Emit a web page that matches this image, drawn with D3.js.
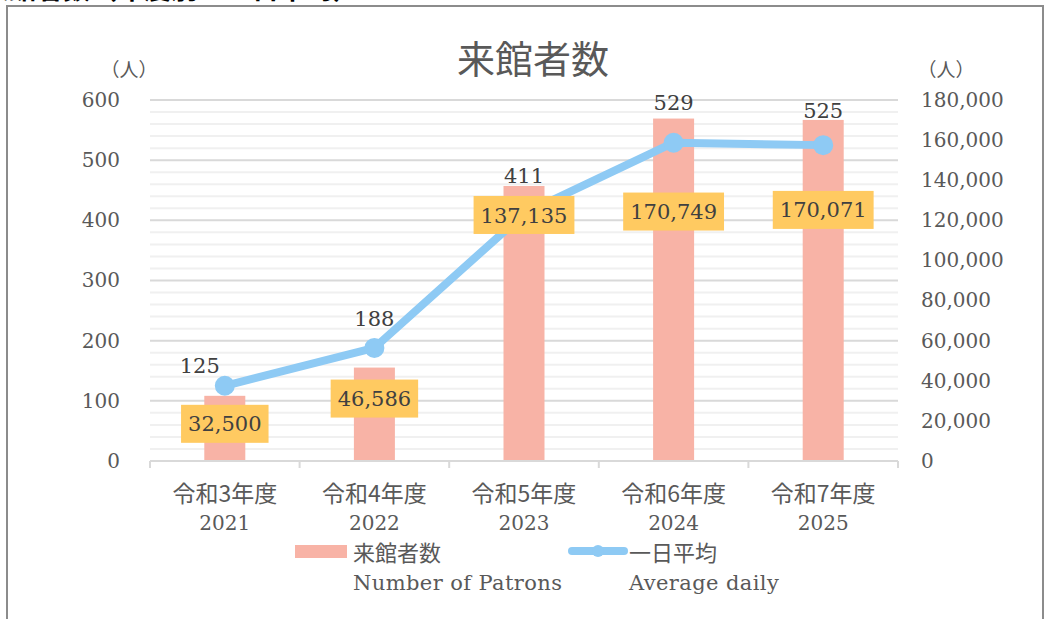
<!DOCTYPE html>
<meta charset="utf-8">
<html>
<head>
<script src="https://d3js.org/d3.v7.min.js"></script>
<style>
  body { margin: 0; background: #fff; }
  svg { display: block; }
  .num { font-family: "DejaVu Serif", serif; }
  .jp { font-family: "Noto Sans CJK JP", sans-serif; }
</style>
</head>
<body>
<div id="chart"></div>
<script>
// data
const years = ["2021", "2022", "2023", "2024", "2025"];
const nendo = ["令和3年度", "令和4年度", "令和5年度", "令和6年度", "令和7年度"];
const patrons = [32500, 46586, 137135, 170749, 170071];   // 来館者数 (right axis)
const daily = [125, 188, 411, 529, 525];                   // 一日平均 (left axis)
const leftTicks = [0, 100, 200, 300, 400, 500, 600];
const rightTicks = [0, 20000, 40000, 60000, 80000, 100000, 120000, 140000, 160000, 180000];

// label nudges (the original had some labels dragged by hand)
const boxShift = [28, 31, 29, 93, 90];
const lineLblDx = [-25, 0, 0, 0, 0];
const lineLblDy = [-13, -22, -31, -33, -27];

const W = 1051, H = 619;
const plot = { left: 150, right: 898, top: 100, bottom: 461 };

const svg = d3.select("#chart").append("svg")
    .attr("width", W).attr("height", H);

// cut off heading at very top + frame
svg.append("text")
    .attr("class", "jp")
    .attr("x", -18).attr("y", -1)
    .attr("font-size", 27).attr("font-weight", "bold")
    .attr("fill", "#000")
    .text("来館者数（年度別・一日平均）");

svg.append("rect")
    .attr("x", 7).attr("y", 6)
    .attr("width", 1036).attr("height", 640)
    .attr("fill", "none").attr("stroke", "#8c8c8c").attr("stroke-width", 2);

// scales
const x = d3.scaleBand().domain(years).range([plot.left, plot.right]);
const yL = d3.scaleLinear().domain([0, 600]).range([plot.bottom, plot.top]);
const yR = d3.scaleLinear().domain([0, 180000]).range([plot.bottom, plot.top]);

// minor gridlines
svg.append("g")
    .selectAll("line")
    .data(d3.range(0, 601, 20).filter(v => v % 100 !== 0))
    .join("line")
    .attr("x1", plot.left).attr("x2", plot.right)
    .attr("y1", d => yL(d)).attr("y2", d => yL(d))
    .attr("stroke", "#f0f0f0").attr("stroke-width", 2);

// major gridlines
svg.append("g")
    .selectAll("line")
    .data(leftTicks.slice(1))
    .join("line")
    .attr("x1", plot.left).attr("x2", plot.right)
    .attr("y1", d => yL(d)).attr("y2", d => yL(d))
    .attr("stroke", "#d9d9d9").attr("stroke-width", 2);

// left axis
const axL = svg.append("g")
    .attr("transform", `translate(${plot.left},0)`)
    .call(d3.axisLeft(yL).tickValues(leftTicks).tickSize(0).tickPadding(30));
axL.select(".domain").remove();
axL.selectAll("text")
    .attr("class", "num").attr("font-size", 20).attr("fill", "#595959");

// right axis
const axR = svg.append("g")
    .attr("transform", `translate(${plot.right},0)`)
    .call(d3.axisRight(yR).tickValues(rightTicks).tickSize(0).tickPadding(23)
        .tickFormat(d3.format(",")));
axR.select(".domain").remove();
axR.selectAll("text")
    .attr("class", "num").attr("font-size", 20).attr("fill", "#595959");

// unit labels
svg.append("text").attr("class", "jp")
    .attr("x", 129).attr("y", 77).attr("text-anchor", "middle")
    .attr("font-size", 19).attr("fill", "#595959").text("（人）");
svg.append("text").attr("class", "jp")
    .attr("x", 946).attr("y", 77).attr("text-anchor", "middle")
    .attr("font-size", 19).attr("fill", "#595959").text("（人）");

// title
svg.append("text").attr("class", "jp")
    .attr("x", 533).attr("y", 73).attr("text-anchor", "middle")
    .attr("font-size", 38).attr("fill", "#595959").text("来館者数");

// bars
const barW = 41;
svg.append("g")
    .selectAll("rect")
    .data(patrons)
    .join("rect")
    .attr("x", (d, i) => x(years[i]) + x.bandwidth() / 2 - barW / 2)
    .attr("y", d => yR(d))
    .attr("width", barW)
    .attr("height", d => plot.bottom - yR(d))
    .attr("fill", "#f8b3a6");

// x axis
const axB = svg.append("g")
    .attr("transform", `translate(0,${plot.bottom})`)
    .call(d3.axisBottom(x).tickSize(0).tickFormat(""));
axB.select(".domain").attr("stroke", "#d9d9d9").attr("stroke-width", 2)
    .attr("d", `M${plot.left},0H${plot.right}`);
axB.selectAll(".tick").remove();
svg.append("g")
    .selectAll("line")
    .data(years.concat(["end"]))
    .join("line")
    .attr("x1", (d, i) => plot.left + i * x.bandwidth())
    .attr("x2", (d, i) => plot.left + i * x.bandwidth())
    .attr("y1", plot.bottom).attr("y2", plot.bottom + 7)
    .attr("stroke", "#d9d9d9").attr("stroke-width", 2);

const cat = svg.append("g");
cat.selectAll("text.n")
    .data(nendo)
    .join("text")
    .attr("class", "jp")
    .attr("x", (d, i) => x(years[i]) + x.bandwidth() / 2)
    .attr("y", 502).attr("text-anchor", "middle")
    .attr("font-size", 23).attr("fill", "#595959")
    .text(d => d);
cat.selectAll("text.y")
    .data(years)
    .join("text")
    .attr("class", "num")
    .attr("x", d => x(d) + x.bandwidth() / 2)
    .attr("y", 530).attr("text-anchor", "middle")
    .attr("font-size", 20).attr("fill", "#595959")
    .text(d => d);

// line
const cx = i => x(years[i]) + x.bandwidth() / 2;
const line = d3.line().x((d, i) => cx(i)).y(d => yL(d));
svg.append("path")
    .datum(daily)
    .attr("d", line)
    .attr("fill", "none")
    .attr("stroke", "#8ecaf4")
    .attr("stroke-width", 8)
    .attr("stroke-linejoin", "round");
svg.append("g")
    .selectAll("circle")
    .data(daily)
    .join("circle")
    .attr("cx", (d, i) => cx(i))
    .attr("cy", d => yL(d))
    .attr("r", 10)
    .attr("fill", "#8ecaf4");

// line labels
svg.append("g")
    .selectAll("text")
    .data(daily)
    .join("text")
    .attr("class", "num")
    .attr("x", (d, i) => cx(i) + lineLblDx[i])
    .attr("y", (d, i) => yL(d) + lineLblDy[i])
    .attr("text-anchor", "middle")
    .attr("font-size", 21).attr("fill", "#404040")
    .text(d => d);

// bar labels in yellow boxes
const fmt = d3.format(",");
const boxes = svg.append("g")
    .selectAll("g")
    .data(patrons)
    .join("g")
    .attr("transform", (d, i) => `translate(${cx(i)},${yR(d) + boxShift[i]})`);
boxes.append("rect").attr("fill", "#ffca61");
boxes.append("text")
    .attr("class", "num")
    .attr("text-anchor", "middle").attr("dy", "0.36em")
    .attr("font-size", 21).attr("fill", "#404040")
    .text(d => fmt(d));
boxes.each(function () {
    const g = d3.select(this);
    const bb = g.select("text").node().getBBox();
    g.select("rect")
        .attr("x", bb.x - 7).attr("width", bb.width + 14)
        .attr("y", -19).attr("height", 38);
});

// legend
const lg = svg.append("g");
lg.append("rect").attr("x", 295).attr("y", 545).attr("width", 52).attr("height", 13)
    .attr("fill", "#f8b3a6");
lg.append("text").attr("class", "jp").attr("x", 353).attr("y", 561)
    .attr("font-size", 22).attr("fill", "#595959").text("来館者数");
lg.append("text").attr("class", "num").attr("x", 353).attr("y", 590)
    .attr("font-size", 21).attr("letter-spacing", 0.4).attr("fill", "#595959").text("Number of Patrons");
lg.append("line").attr("x1", 572).attr("x2", 624).attr("y1", 551).attr("y2", 551)
    .attr("stroke", "#8ecaf4").attr("stroke-width", 8).attr("stroke-linecap", "round");
lg.append("circle").attr("cx", 598).attr("cy", 551).attr("r", 6).attr("fill", "#8ecaf4");
lg.append("text").attr("class", "jp").attr("x", 629).attr("y", 561)
    .attr("font-size", 22).attr("fill", "#595959").text("一日平均");
lg.append("text").attr("class", "num").attr("x", 629).attr("y", 590)
    .attr("font-size", 21).attr("letter-spacing", 0.4).attr("fill", "#595959").text("Average daily");
</script>
</body>
</html>
